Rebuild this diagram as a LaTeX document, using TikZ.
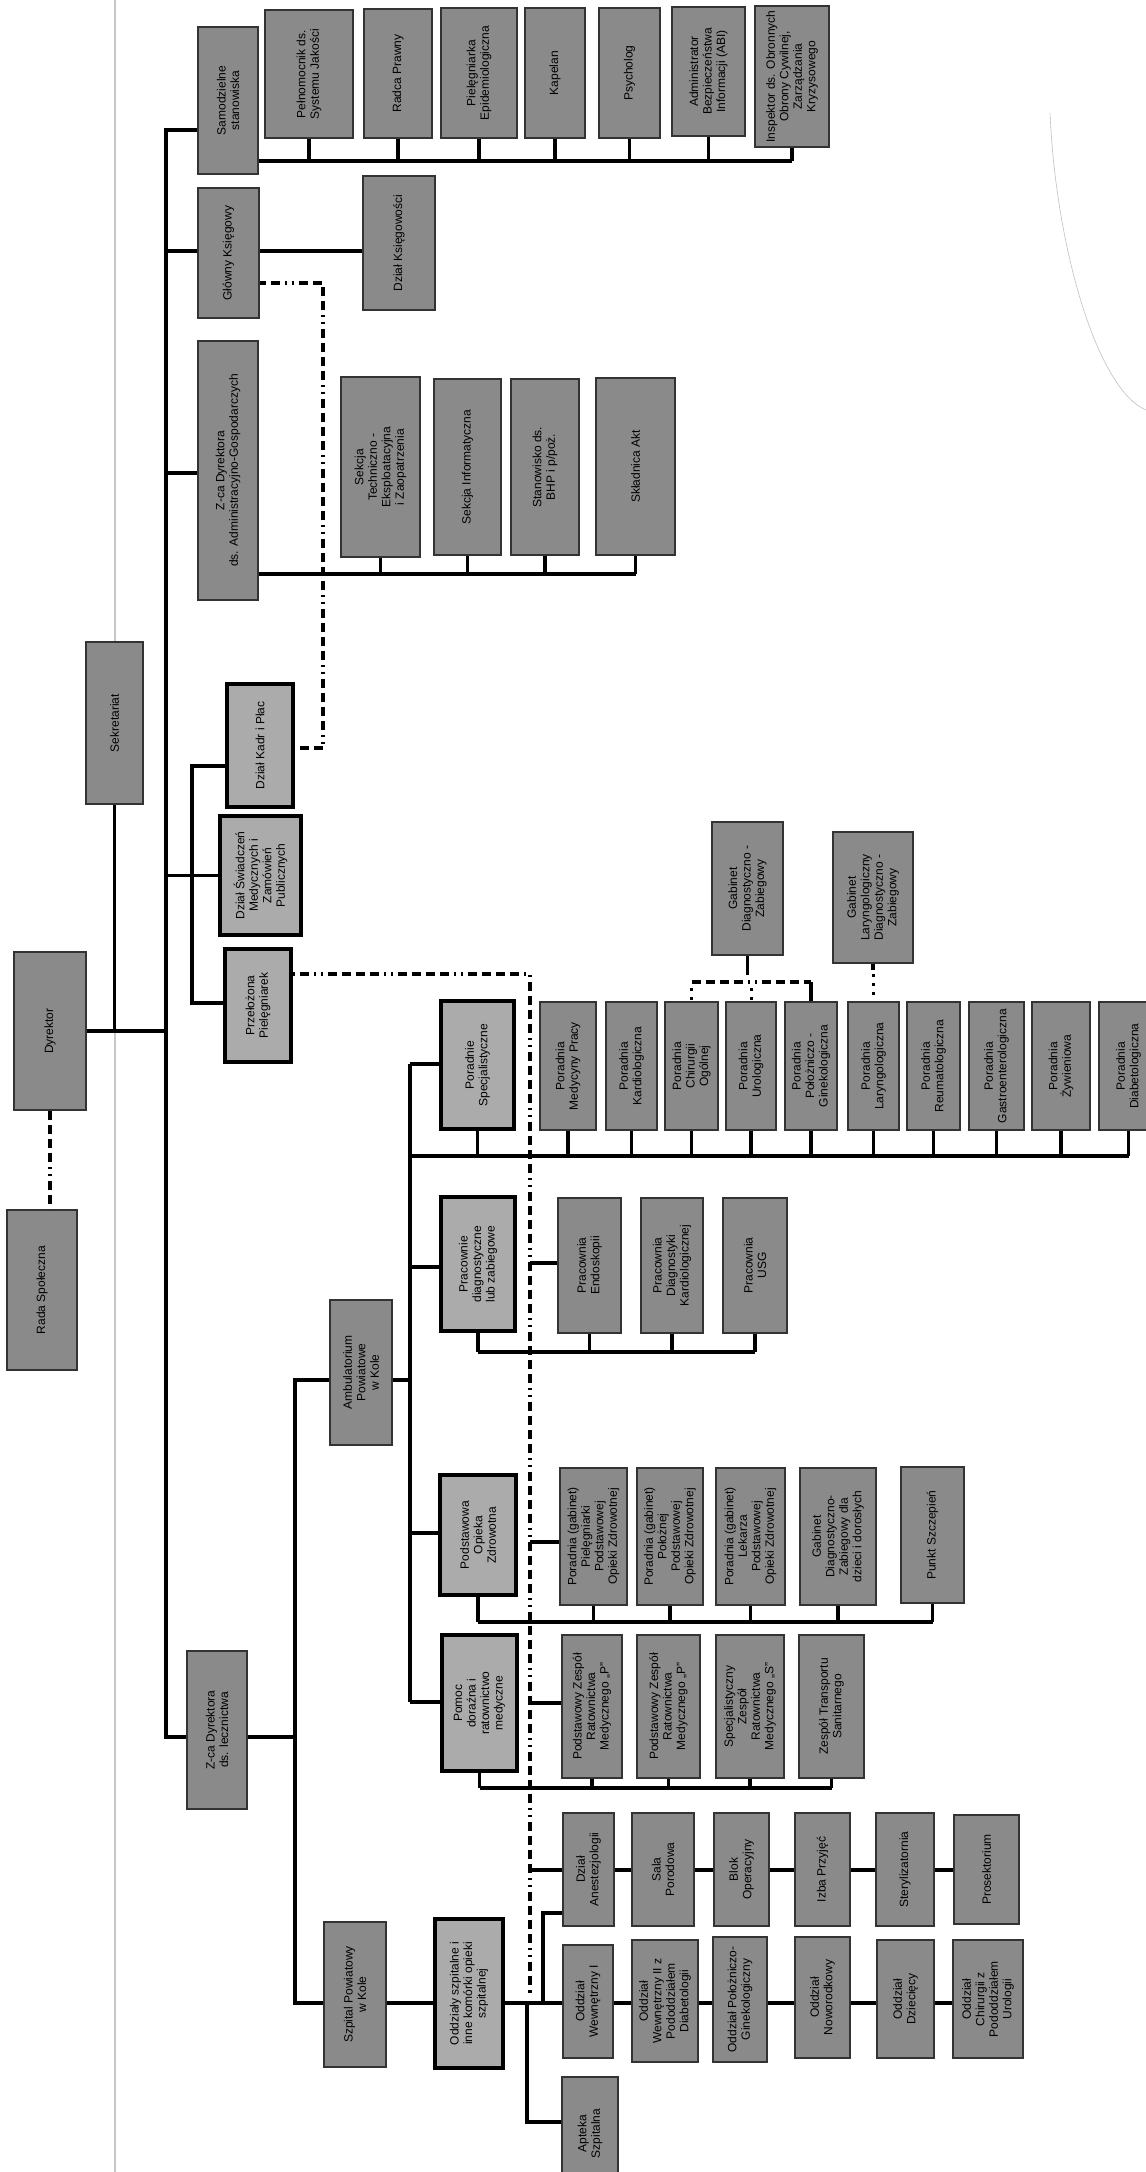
\documentclass[tikz,border=0pt]{standalone}
\usepackage{fontspec}
\setmainfont{Liberation Sans}
\usetikzlibrary{backgrounds}

\tikzset{
  orgbox/.style={draw=black!80, line width=1.4pt, fill=black!46, rotate=90,
    align=center, inner sep=1pt, font=\fontsize{12}{13.5}\selectfont},
  keybox/.style={draw=black, line width=4.5pt, fill=black!33},
  conn/.style={line width=3.4pt, black},
  staff/.style={line width=4pt, black, dash pattern=on 9pt off 5pt on 9pt off 5pt on 9pt off 5pt on 9pt off 5pt on 2pt off 5pt on 2pt off 5pt},
  dotlink/.style={line width=3pt, black, dash pattern=on 3pt off 6pt},
}
% box from its page corners (x1,y1)-(x2,y2), text read bottom to top
\newcommand{\orgunit}[7][]{%
  \node[orgbox,#1,minimum width={(#6-#4)*1pt},minimum height={(#5-#3)*1pt}]
    (#2) at ({(#3+#5)/2},{(#4+#6)/2}) {#7};}

\begin{document}
\begin{tikzpicture}[x=1pt,y=-1pt]
  \useasboundingbox (0,0) rectangle (1146,2172);

  % Director, council, secretariat
  \orgunit{rada}{7}{1210}{77}{1370}{Rada Społeczna}
  \orgunit{dyr}{14}{952}{86}{1110}{Dyrektor}
  \orgunit{sekr}{86}{642}{143}{804}{Sekretariat}

  % Standalone posts
  \orgunit{samo}{198}{27}{258}{174}{Samodzielne\\stanowiska}
  \orgunit{pelnom}{265}{10}{353}{138}{Pełnomocnik ds.\\Systemu Jakości}
  \orgunit{radca}{364}{9}{432}{138}{Radca Prawny}
  \orgunit{pielepid}{441}{8}{517}{138}{Pielęgniarka\\Epidemiologiczna}
  \orgunit{kapelan}{525}{8}{585}{138}{Kapelan}
  \orgunit{psycho}{599}{8}{660}{138}{Psycholog}
  \orgunit{abi}{672}{7}{745}{136}{Administrator\\Bezpieczeństwa\\Informacji (ABI)}
  \orgunit{inspektor}{755}{6}{829}{147}{Inspektor ds. Obronnych\\Obrony Cywilnej,\\Zarządzania\\Kryzysowego}

  % Chief accountant
  \orgunit{glowny}{198}{188}{259}{318}{Główny Księgowy}
  \orgunit{ksieg}{363}{176}{435}{310}{Dział Księgowości}

  % Administration
  \orgunit{zadmin}{198}{341}{258}{600}{Z-ca Dyrektora\\ds. Administracyjno-Gospodarczych}
  \orgunit{sekcjatech}{341}{377}{420}{557}{Sekcja\\Techniczno -\\Eksploatacyjna\\i Zaopatrzenia}
  \orgunit{sekcjainf}{434}{379}{501}{555}{Sekcja Informatyczna}
  \orgunit{bhp}{511}{379}{579}{555}{Stanowisko ds.\\BHP i p/poż.}
  \orgunit{akt}{596}{378}{675}{555}{Składnica Akt}

  % Departments under the director
  \orgunit[keybox]{kadr}{227}{684}{293}{807}{Dział Kadr i Płac}
  \orgunit[keybox]{swiad}{220}{816}{301}{935}{Dział Świadczeń\\Medycznych i\\Zamówień\\Publicznych}
  \orgunit[keybox]{przel}{225}{949}{291}{1062}{Przełożona\\Pielęgniarek}

  % Outpatient clinic
  \orgunit{ambul}{330}{1300}{392}{1445}{Ambulatorium\\Powiatowe\\w Kole}
  \orgunit[keybox]{porspec}{441}{1001}{514}{1129}{Poradnie\\Specjalistyczne}
  \orgunit{pmp}{540}{1002}{596}{1130}{Poradnia\\Medycyny Pracy}
  \orgunit{pkard}{606}{1002}{657}{1130}{Poradnia\\Kardiologiczna}
  \orgunit{pchir}{665}{1002}{718}{1130}{Poradnia\\Chirurgii\\Ogólnej}
  \orgunit{purol}{726}{1002}{776}{1130}{Poradnia\\Urologiczna}
  \orgunit{pgin}{785}{1002}{837}{1130}{Poradnia\\Położniczo -\\Ginekologiczna}
  \orgunit{plar}{848}{1002}{899}{1130}{Poradnia\\Laryngologiczna}
  \orgunit{preum}{907}{1002}{960}{1130}{Poradnia\\Reumatologiczna}
  \orgunit{pgastro}{969}{1002}{1024}{1130}{Poradnia\\Gastroenterologiczna}
  \orgunit{pzyw}{1032}{1002}{1090}{1130}{Poradnia\\Żywieniowa}
  \orgunit{pdiab}{1099}{1002}{1158}{1130}{Poradnia\\Diabetologiczna}
  \orgunit{gdz}{712}{822}{783}{955}{Gabinet\\Diagnostyczno -\\Zabiegowy}
  \orgunit{glar}{833}{832}{913}{963}{Gabinet\\Laryngologiczny\\Diagnostyczno -\\Zabiegowy}

  \orgunit[keybox]{pracdiag}{441}{1197}{515}{1331}{Pracownie\\diagnostyczne\\lub zabiegowe}
  \orgunit{pendo}{558}{1198}{621}{1333}{Pracownia\\Endoskopii}
  \orgunit{pkardio}{641}{1198}{703}{1333}{Pracownia\\Diagnostyki\\Kardiologicznej}
  \orgunit{pusg}{723}{1198}{787}{1333}{Pracownia\\USG}

  \orgunit[keybox]{poz}{440}{1475}{516}{1595}{Podstawowa\\Opieka\\Zdrowotna}
  \orgunit{pz1}{560}{1468}{627}{1605}{Poradnia (gabinet)\\Pielęgniarki\\Podstawowej\\Opieki Zdrowotnej}
  \orgunit{pz2}{637}{1468}{703}{1605}{Poradnia (gabinet)\\Położnej\\Podstawowej\\Opieki Zdrowotnej}
  \orgunit{pz3}{716}{1468}{785}{1605}{Poradnia (gabinet)\\Lekarza\\Podstawowej\\Opieki Zdrowotnej}
  \orgunit{pz4}{800}{1468}{876}{1605}{Gabinet\\Diagnostyczno-\\Zabiegowy dla\\dzieci i dorosłych}
  \orgunit{pszcz}{901}{1467}{964}{1603}{Punkt Szczepień}

  \orgunit[keybox]{pomoc}{442}{1635}{517}{1771}{Pomoc\\doraźna i\\ratownictwo\\medyczne}
  \orgunit{pr1}{562}{1635}{622}{1778}{Podstawowy Zespół\\Ratownictwa\\Medycznego „P”}
  \orgunit{pr2}{637}{1635}{700}{1778}{Podstawowy Zespół\\Ratownictwa\\Medycznego „P”}
  \orgunit{pr3}{716}{1635}{784}{1778}{Specjalistyczny\\Zespół\\Ratownictwa\\Medycznego „S”}
  \orgunit{pr4}{799}{1635}{864}{1778}{Zespół Transportu\\Sanitarnego}

  % Medical deputy and hospital
  \orgunit{zlecz}{187}{1651}{247}{1809}{Z-ca Dyrektora\\ds. lecznictwa}
  \orgunit{szpital}{324}{1922}{386}{2067}{Szpital Powiatowy\\w Kole}
  \orgunit[keybox]{oddz}{435}{1919}{503}{2068}{Oddziały szpitalne i\\inne komórki opieki\\szpitalnej}
  \orgunit{anest}{563}{1813}{614}{1926}{Dział\\Anestezjologii}
  \orgunit{sala}{632}{1813}{694}{1926}{Sala\\Porodowa}
  \orgunit{blok}{714}{1813}{769}{1926}{Blok\\Operacyjny}
  \orgunit{izba}{795}{1813}{850}{1926}{Izba Przyjęć}
  \orgunit{steryl}{876}{1813}{934}{1926}{Sterylizatornia}
  \orgunit{prosek}{954}{1815}{1019}{1924}{Prosektorium}
  \orgunit{ow1}{563}{1945}{613}{2058}{Oddział\\Wewnętrzny I}
  \orgunit{ow2}{632}{1940}{698}{2062}{Oddział\\Wewnętrzny II z\\Pododdziałem\\Diabetologii}
  \orgunit{opg}{713}{1937}{767}{2062}{Oddział Położniczo-\\Ginekologiczny}
  \orgunit{onow}{795}{1937}{850}{2058}{Oddział\\Noworodkowy}
  \orgunit{odz}{877}{1940}{934}{2058}{Oddział\\Dziecięcy}
  \orgunit{ochir}{953}{1940}{1023}{2058}{Oddział\\Chirurgii z\\Pododdziałem\\Urologii}
  \orgunit{apteka}{562}{2077}{618}{2190}{Apteka\\Szpitalna}

  \begin{pgfonlayer}{background}
    \fill[white] (0,0) rectangle (1146,2172);
    % scan edge and pencil mark
    \draw[black!22, line width=1.5pt] (115,0) -- (115,2172);
    \draw[blue!25!black!25, line width=0.6pt] (1050,113) .. controls (1056,250) and (1098,390) .. (1146,410);

    % main spine
    \coordinate (spinetop) at (166,130);
    \coordinate (spinebot) at (166,1737);
    \draw[conn] (spinetop -| samo) -- (spinetop) -- (spinebot) -- (spinebot -| zlecz);
    \draw[conn] (dyr) -- (dyr -| spinetop);
    \draw[conn] (sekr) -- (sekr |- dyr);
    \draw[staff] (dyr) -- (dyr |- rada.east);

    % standalone posts
    \coordinate (samobus) at (0,161);
    \draw[conn] (samobus -| samo) -- (samobus -| inspektor);
    \foreach \n in {pelnom,radca,pielepid,kapelan,psycho,abi,inspektor}
      \draw[conn] (\n) -- (\n |- samobus);

    % chief accountant
    \coordinate (glrow) at (0,251);
    \draw[conn] (glrow -| spinetop) -- (glrow -| ksieg);

    % administration
    \coordinate (admrow) at (0,473);
    \coordinate (admbus) at (0,574);
    \draw[conn] (admrow -| spinetop) -- (admrow -| zadmin);
    \draw[conn] (admbus -| zadmin) -- (admbus -| akt);
    \foreach \n in {sekcjatech,sekcjainf,bhp,akt}
      \draw[conn] (\n) -- (\n |- admbus);

    % departments
    \coordinate (depx) at (192,0);
    \draw[conn] (swiad -| spinetop) -- (swiad);
    \draw[conn] (kadr |- 0,766) -- (depx |- 0,766) -- (depx |- 0,1003) -- (przel |- 0,1003);

    % dash-dot staff lines
    \draw[staff] (glowny |- 0,283) -- (323,283) -- (323,748) -- (kadr |- 0,748);
    \draw[staff] (przel |- 0,974) -- (530,974) -- (530,1993);

    % medical deputy
    \coordinate (lecz) at (295,0);
    \coordinate (ambrow) at (0,1380);
    \coordinate (hosprow) at (0,2003);
    \draw[conn] (zlecz |- spinebot) -- (spinebot -| lecz);
    \draw[conn] (ambrow -| ambul) -- (ambrow -| lecz) -- (hosprow -| lecz) -- (hosprow -| ochir);

    % outpatient clinic
    \coordinate (ambx) at (410,0);
    \draw[conn] (ambrow -| ambul) -- (ambrow -| ambx);
    \draw[conn] (ambx |- 0,1064) -- (ambx |- 0,1702);
    \foreach \n/\y in {porspec/1064, pracdiag/1267, poz/1533, pomoc/1702}
      \draw[conn] (ambx |- 0,\y) -- (\n |- 0,\y);

    \coordinate (psbus) at (0,1156);
    \draw[conn] (psbus -| ambx) -- (psbus -| pdiab);
    \foreach \n in {porspec,pmp,pkard,pchir,purol,pgin,plar,preum,pgastro,pzyw,pdiab}
      \draw[conn] (\n) -- (\n |- psbus);
    \draw[conn] (gdz) -- (gdz |- 0,975);
    \draw[staff] (pchir |- 0,982) -- (pgin |- 0,982);
    \draw[conn] (pgin |- 0,982) -- (pgin);
    \draw[dotlink] (pchir |- 0,988) -- (pchir);
    \draw[dotlink] (purol |- 0,988) -- (purol);
    \draw[conn] (glar) -- (glar |- 0,970);
    \draw[dotlink] (glar |- 0,974) -- (glar |- plar.east);

    \coordinate (pdbus) at (0,1352);
    \draw[conn] (pdbus -| pracdiag) -- (pdbus -| pusg);
    \foreach \n in {pracdiag,pendo,pkardio,pusg}
      \draw[conn] (\n) -- (\n |- pdbus);
    \draw[conn] (530,1263) -- (pendo |- 0,1263);

    \coordinate (pozbus) at (0,1622);
    \draw[conn] (pozbus -| poz) -- (pozbus -| pszcz);
    \foreach \n in {poz,pz1,pz2,pz3,pz4,pszcz}
      \draw[conn] (\n) -- (\n |- pozbus);
    \draw[conn] (530,1542) -- (pz1 |- 0,1542);

    \coordinate (prbus) at (0,1788);
    \draw[conn] (prbus -| pomoc) -- (prbus -| pr4);
    \foreach \n in {pomoc,pr1,pr2,pr3,pr4}
      \draw[conn] (\n) -- (\n |- prbus);
    \draw[conn] (530,1703) -- (pr1 |- 0,1703);

    % hospital wards
    \draw[conn] (530,1870) -- (anest |- 0,1870);
    \draw[conn] (anest |- 0,1870) -- (prosek |- 0,1870);
    \draw[conn] (543,2003) -- (543,1913) -- (anest |- 0,1913);
    \draw[conn] (527,2003) -- (527,2122) -- (apteka |- 0,2122);
  \end{pgfonlayer}
\end{tikzpicture}
\end{document}
